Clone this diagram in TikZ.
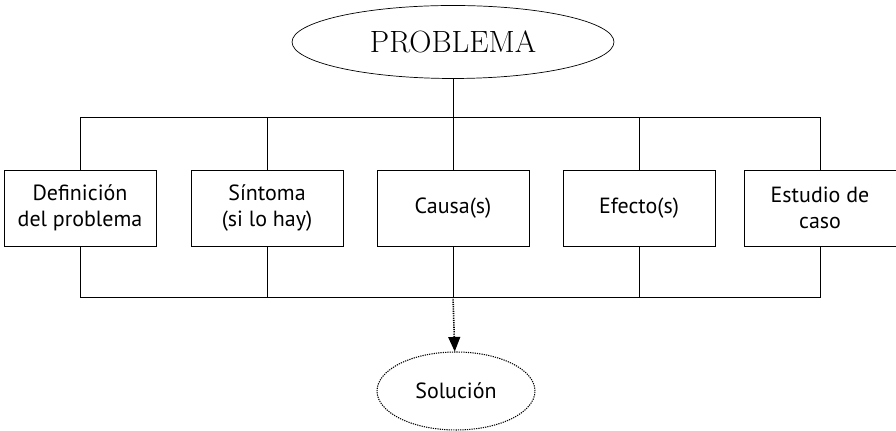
\documentclass[tikz,border=0pt]{standalone}
\usepackage{fontspec}
\setsansfont{PT Sans}
\usetikzlibrary{arrows,positioning,shapes}

\begin{document}
\begin{tikzpicture}[x=0.02cm,y=-0.02cm,
        caja/.style={draw, minimum width=3.04cm, minimum height=1.52cm,
                        align=center, font=\sffamily\fontsize{12.5}{15}\selectfont},
        elipse/.style={draw, ellipse, inner sep=0pt},
        puntos/.style={dash pattern=on 0.7pt off 0.6pt}]
                \useasboundingbox (0,0) rectangle (896,431);

                \node [elipse, minimum width=6.44cm, minimum height=1.46cm,
                        font=\fontsize{17.5}{20}\selectfont]
                                        (prob) at (453,42) {PROBLEMA};

                \node [caja] (def) at (80,208) {Definición\\del problema};
                \node [caja] (sin) at (267,208) {Síntoma\\(si lo hay)};
                \node [caja] (cau) at (453,208) {Causa(s)};
                \node [caja] (efe) at (639,208) {Efecto(s)};
                \node [caja] (est) at (820,208) {Estudio de\\caso};

                \node [elipse, puntos, semithick, minimum width=3.16cm, minimum height=1.56cm,
                        font=\sffamily\fontsize{12.5}{15}\selectfont]
                                        (sol) at (456,391) {Solución};

                % lineas de union
                \coordinate (arr) at (453,117);
                \coordinate (aba) at (453,297);

                \draw (prob) -- (arr);
                \draw (def.north) -- (def.north |- arr) -- (est.north |- arr) -- (est.north);
                \draw (sin.north) -- (sin.north |- arr);
                \draw (cau.north) -- (arr);
                \draw (efe.north) -- (efe.north |- arr);

                \draw (def.south) -- (def.south |- aba) -- (est.south |- aba) -- (est.south);
                \draw (sin.south) -- (sin.south |- aba);
                \draw (cau.south) -- (aba);
                \draw (efe.south) -- (efe.south |- aba);

                \draw [puntos, line width=0.9pt, -triangle 45] (aba) -- (sol);
            \end{tikzpicture}
\end{document}
